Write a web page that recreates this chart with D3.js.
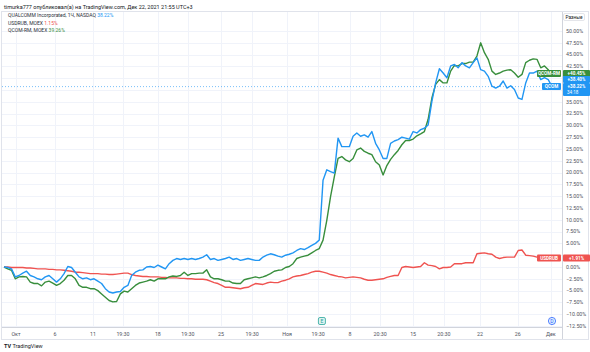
<!DOCTYPE html>
<html><head><meta charset="utf-8">
<script src="https://cdn.jsdelivr.net/npm/d3@7"></script>
<style>body{margin:0;background:#fff}svg{display:block;font-family:Roboto,"Liberation Sans",sans-serif}</style>
</head><body><svg id="c" width="590" height="352"></svg>
<script>
// percent change series (hourly bars, equally spaced)
const qcom = [
0.0,-0.1,-0.4,-2.1,-1.8,-1.3,-0.9,-1.8,-2.1,-2.5,
-2.7,-2.1,-1.8,-2.5,-3.2,-2.5,-1.4,0.1,-0.1,-1.1,
-2.1,-2.5,-2.3,-2.7,-2.5,-3.0,-3.5,-4.6,-5.3,-5.5,
-5.3,-5.2,-4.3,-3.9,-1.8,-1.1,-0.7,-0.6,0.0,0.1,
-0.1,0.4,0.0,-0.4,0.7,1.4,1.8,1.6,1.8,1.6,
1.8,1.6,1.8,2.1,2.6,1.6,1.8,1.4,1.6,1.8,
2.1,1.6,1.8,1.4,1.6,1.8,1.6,1.4,1.4,2.1,
2.5,2.8,2.6,2.3,2.1,2.5,2.7,3.0,3.5,3.9,
3.7,4.1,4.6,5.0,5.7,18.4,20.6,20.2,19.9,27.3,
25.5,25.5,25.5,27.7,28.4,27.7,28.0,27.5,28.7,26.2,
24.8,23.0,23.0,26.2,26.7,27.0,27.5,27.3,27.1,28.7,
28.4,29.1,29.4,30.1,35.1,39.0,42.0,41.1,40.1,42.6,
42.9,42.2,43.3,42.6,42.2,43.3,44.3,41.8,41.5,40.4,
38.3,37.9,38.3,39.4,37.9,38.4,37.6,35.8,35.5,39.0,
41.1,41.1,41.5,39.7,40.1,39.7,38.22];
const usdrub = [
0.0,0.0,-0.1,-0.1,-0.1,-0.1,-0.2,-0.2,-0.3,-0.4,
-0.4,-0.4,-0.5,-0.5,-0.6,-0.6,-0.7,-0.8,-0.9,-1.1,
-1.1,-1.2,-1.3,-1.4,-1.4,-1.4,-1.5,-1.5,-1.6,-1.6,
-1.5,-1.4,-1.3,-1.3,-1.6,-1.8,-1.9,-2.0,-2.0,-2.1,
-2.1,-2.1,-2.2,-2.2,-2.3,-2.3,-2.3,-2.4,-2.4,-2.5,
-2.5,-2.6,-2.6,-2.6,-2.7,-3.0,-3.3,-3.5,-3.9,-4.3,
-4.3,-4.4,-4.5,-4.6,-4.4,-4.3,-3.9,-3.5,-3.6,-3.7,
-3.4,-3.2,-3.3,-3.3,-3.0,-2.8,-2.5,-2.1,-1.9,-1.8,
-1.6,-1.4,-1.1,-0.9,-0.9,-1.1,-1.3,-1.6,-1.8,-2.0,
-2.1,-2.3,-2.2,-2.1,-2.2,-2.3,-2.6,-2.8,-2.8,-2.7,
-2.6,-2.5,-2.2,-2.0,-1.8,-1.8,-0.1,0.1,0.0,-0.1,
0.0,0.1,0.9,0.4,0.3,0.1,-0.4,-0.1,-0.1,0.0,
0.7,0.7,0.7,0.9,0.9,0.9,2.8,2.9,3.0,2.8,
2.7,2.1,1.8,2.0,2.1,2.1,2.1,3.5,3.6,2.5,
2.4,2.3,2.1,2.0,2.0,1.9,1.91];
const qcomRm = [
0.0,-0.4,-0.7,-2.5,-2.1,-2.0,-2.1,-3.2,-3.5,-3.5,
-4.0,-3.2,-3.0,-3.4,-3.9,-3.5,-2.8,-1.8,-1.8,-2.5,
-3.9,-4.3,-4.3,-4.6,-4.6,-5.0,-5.7,-6.4,-7.1,-7.4,
-7.3,-5.7,-5.1,-5.3,-4.6,-3.9,-3.4,-3.2,-3.0,-2.7,
-3.0,-2.5,-2.5,-2.5,-2.1,-1.9,-2.0,-1.8,-1.1,-1.8,
-1.4,-1.4,-1.3,-1.3,-0.6,-2.1,-2.5,-2.5,-2.7,-3.0,
-3.0,-3.4,-3.5,-3.5,-2.7,-2.5,-2.3,-2.1,-2.3,-2.1,
-1.8,-1.4,-0.9,-0.7,-0.6,-0.1,0.1,0.7,1.8,2.1,
2.3,2.5,3.0,3.5,3.9,5.7,9.9,14.9,19.1,23.0,
23.4,22.7,22.3,23.0,24.8,25.2,24.5,24.1,23.8,22.3,
21.6,19.5,21.5,22.8,23.8,24.7,25.9,26.8,26.8,27.1,
27.8,28.2,28.7,31.3,35.8,38.7,39.7,39.0,39.0,41.5,
42.7,42.6,43.1,43.1,43.4,43.4,44.7,47.5,45.4,44.0,
41.5,40.8,41.1,41.5,41.7,41.8,41.1,40.2,40.8,43.3,
43.8,44.1,44.0,42.2,42.6,41.8,40.45];

const yTicks = d3.range(-12.5, 50.01, 2.5);
const xTickLabels = ["Окт","6","11","19:30","18","19:30","25","19:30","Ноя","19:30","8","20:30","15","20:30","22","26","Дек"];
const xTickBars = [3.2,13.6,23.7,31.7,41.0,49.0,57.8,66.1,75.4,83.7,92.2,100.2,109.0,117.2,126.8,136.9,145.7];
const eventBars = [84.7, 146];
const eventLetters = ["E", "D"];
const legendNames = ["QUALCOMM Incorporated, 1Ч, NASDAQ", "USDRUB, MOEX", "QCOM-RM, MOEX"];
const legendValues = ["38.22%", "1.15%", "39.26%"];

const C = {blue:"#2196f3", red:"#ef5350", green:"#388e3c", grid:"#f0f3fa", text:"#50535e", axis:"#d1d4dc"};
const W = 590, H = 352, plotR = 562, axisY = 327;
const svg = d3.select("#c");
svg.append("rect").attr("width",W).attr("height",H).attr("fill","#fff");

const x = d3.scaleLinear().domain([0, qcom.length-1]).range([4, 552]);
const y = d3.scaleLinear().domain([-12.5, 50]).range([326, 31]);

// tag positions at right scale
const gY = y(qcomRm[qcomRm.length-1]) - 2.6;
const bY = y(qcom[qcom.length-1]);
const rY = y(usdrub[usdrub.length-1]);
const bY2 = bY - 7;
const tagCenters = [gY, bY2, bY, bY + 4, rY];

// frame
svg.append("rect").attr("x",1.5).attr("y",11.5).attr("width",587).attr("height",328)
  .attr("fill","none").attr("stroke","#e0e3eb").attr("stroke-width",1);

// grid
svg.append("g").selectAll("line").data(yTicks).join("line")
  .attr("x1",2).attr("x2",plotR).attr("y1",d=>Math.round(y(d))+0.5).attr("y2",d=>Math.round(y(d))+0.5)
  .attr("stroke",C.grid);
svg.append("g").selectAll("line").data(xTickBars).join("line")
  .attr("x1",d=>Math.round(x(d))+0.5).attr("x2",d=>Math.round(x(d))+0.5).attr("y1",12).attr("y2",axisY)
  .attr("stroke",C.grid);

// axes lines
svg.append("line").attr("x1",2).attr("x2",plotR).attr("y1",axisY+0.5).attr("y2",axisY+0.5).attr("stroke",C.axis);
svg.append("line").attr("x1",plotR+0.5).attr("x2",plotR+0.5).attr("y1",12).attr("y2",339).attr("stroke",C.axis);

// last value dotted line
svg.append("line").attr("x1",2).attr("x2",plotR).attr("y1",bY).attr("y2",bY)
  .attr("stroke",C.blue).attr("stroke-opacity",0.6).attr("stroke-dasharray","1,2");

// y labels (hidden where price tags cover them)
const fmt = v => (v<0?"\u2212":"") + Math.abs(v).toFixed(2) + "%";
const visTicks = yTicks.filter(t => tagCenters.every(c => Math.abs(y(t) - c) > 5));
svg.append("g").selectAll("text").data(visTicks).join("text")
  .attr("x",566).attr("y",d=>y(d)).attr("dy","0.35em").attr("font-size",5.3).attr("fill",C.text)
  .text(fmt);

// x labels
svg.append("g").selectAll("text").data(xTickBars).join("text")
  .attr("x",d=>x(d)).attr("y",334).attr("dy","0.35em").attr("text-anchor","middle")
  .attr("font-size",5.3).attr("fill",C.text).text((d,i)=>xTickLabels[i]);

// lines
const line = d3.line().x((d,i)=>x(i)).y(d=>y(d)).curve(d3.curveLinear);
[[usdrub,C.red],[qcomRm,C.green],[qcom,C.blue]].forEach(([data,col])=>{
  svg.append("path").datum(data).attr("d",line).attr("fill","none").attr("stroke",col)
    .attr("stroke-width",1.4).attr("stroke-linejoin","round");
});

// events
eventBars.forEach((b,i)=>{
  const g = svg.append("g").attr("transform",`translate(${x(b)},321)`);
  if (eventLetters[i]==="E") {
    g.append("rect").attr("x",-3.5).attr("y",-3.5).attr("width",7).attr("height",7).attr("rx",1.5)
      .attr("fill","#e0f2f1").attr("stroke","#26a69a").attr("stroke-width",0.8);
    g.append("text").attr("text-anchor","middle").attr("dy","0.35em").attr("font-size",5).attr("fill","#26a69a").text("E");
  } else {
    g.append("circle").attr("r",3.6).attr("fill","#e3f2fd").attr("stroke","#2962ff").attr("stroke-width",0.8);
    g.append("text").attr("text-anchor","middle").attr("dy","0.35em").attr("font-size",5).attr("fill","#2962ff").text("D");
  }
});

// price labels at right
function tag(xl, w, yc, col, txt) {
  svg.append("rect").attr("x",xl).attr("y",yc-3.5).attr("width",w).attr("height",7).attr("rx",1).attr("fill",col);
  svg.append("text").attr("x",xl+w/2).attr("y",yc).attr("dy","0.35em").attr("text-anchor","middle")
    .attr("font-size",4.6).attr("font-weight","bold").attr("fill","#fff").text(txt);
}
tag(537, 24, gY, C.green, "QCOM-RM");
tag(563, 27, gY, C.green, "+40.45%");
tag(563, 27, bY2, C.blue, "+38.40%");
tag(542, 19, bY, C.blue, "QCOM");
svg.append("rect").attr("x",563).attr("y",bY-3.5).attr("width",27).attr("height",13).attr("rx",1).attr("fill",C.blue);
svg.append("text").attr("x",576.5).attr("y",bY).attr("dy","0.35em").attr("text-anchor","middle")
  .attr("font-size",4.6).attr("font-weight","bold").attr("fill","#fff").text("+38.22%");
svg.append("text").attr("x",567).attr("y",bY+5.8).attr("dy","0.35em")
  .attr("font-size",4.6).attr("fill","#fff").text("34:18");
tag(537, 24, rY, C.red, "USDRUB");
tag(563, 27, rY, C.red, "+1.91%");

// currency button
svg.append("rect").attr("x",563.5).attr("y",13.5).attr("width",21).attr("height",7).attr("rx",1.5)
  .attr("fill","#fff").attr("stroke","#d1d4dc").attr("stroke-width",0.6);
svg.append("text").attr("x",574).attr("y",17).attr("dy","0.35em").attr("text-anchor","middle")
  .attr("font-size",4.8).attr("fill","#131722").text("Разные");

// header
svg.append("text").attr("x",4).attr("y",7).attr("dy","0.35em").attr("font-size",5.5).attr("fill","#131722")
  .text("timurka777 опубликовал(а) на TradingView.com, Дек 22, 2021 21:55 UTC+3");

// legend
const legCols = [C.blue, C.red, C.green];
legendNames.forEach((n,i)=>{
  const t = svg.append("text").attr("x",8).attr("y",15.5+i*7.5).attr("dy","0.35em").attr("font-size",5).attr("fill","#2a2e39");
  t.append("tspan").text(n + " ");
  t.append("tspan").attr("fill",legCols[i]).text(legendValues[i]);
});

// footer logo
const lg = svg.append("text").attr("x",4).attr("y",346).attr("dy","0.35em").attr("font-size",5.5).attr("fill","#131722");
lg.append("tspan").attr("font-weight","bold").text("TV ");
lg.append("tspan").text("TradingView");
</script></body></html>
